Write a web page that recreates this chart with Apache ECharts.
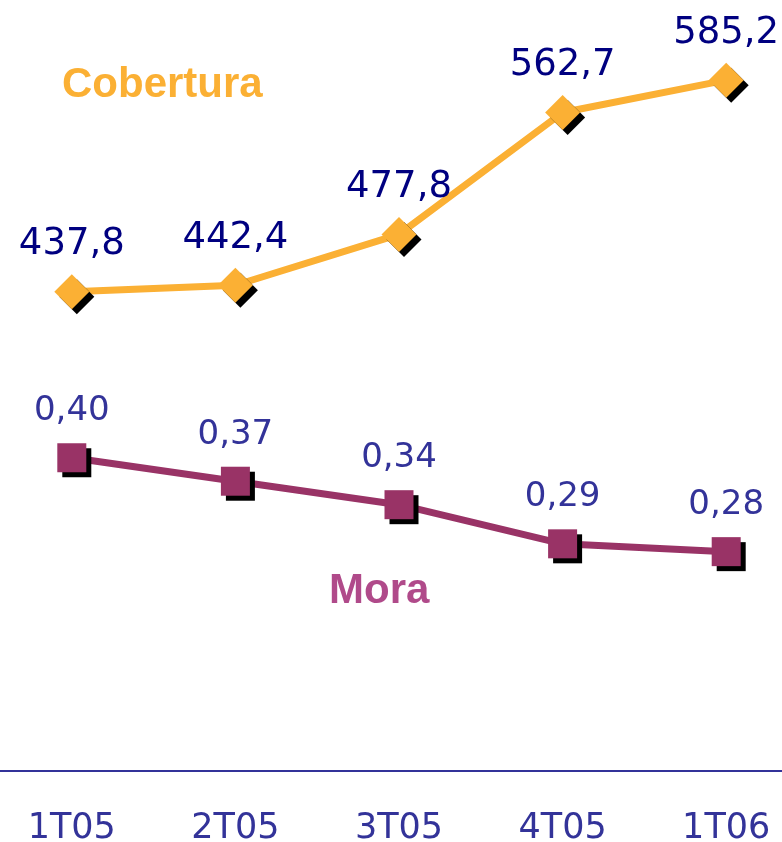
<!DOCTYPE html>
<html>
<head>
<meta charset="utf-8">
<script src="https://cdn.jsdelivr.net/npm/echarts@6/dist/echarts.min.js"></script>
<style>
  html, body { margin: 0; padding: 0; background: #fff; }
  #chart { width: 782px; height: 842px; }
</style>
</head>
<body>
<div id="chart"></div>
<script>
// quarters
const categories = ['1T05', '2T05', '3T05', '4T05', '1T06']
// Cobertura (%)
const coberturaData = [437.8, 442.4, 477.8, 562.7, 585.2]
// Mora (%)
const moraData = [0.40, 0.37, 0.34, 0.29, 0.28]

const fmt = (digits) => (p) => p.value.toFixed(digits).replace('.', ',')

const chart = echarts.init(document.getElementById('chart'))
chart.setOption({
  animation: false,
  backgroundColor: '#fff',
  grid: { left: -10, right: -26, top: 0, bottom: 65, outerBoundsMode: 'none', containLabel: false },
  xAxis: {
    type: 'category',
    data: categories,
    boundaryGap: true,
    axisLine: { lineStyle: { color: '#333399', width: 2 } },
    axisTick: { show: false },
    axisLabel: {
      margin: 34,
      color: '#333399',
      fontFamily: 'DejaVu Sans',
      fontSize: 35
    }
  },
  yAxis: [
    { type: 'value', min: 100, max: 641, show: false, splitLine: { show: false } },
    { type: 'value', min: -0.008, max: 0.985, show: false, splitLine: { show: false } }
  ],
  graphic: [
    {
      type: 'text', left: 62, top: 64,
      style: { text: 'Cobertura', fill: '#fbb034', font: 'bold 42px "Liberation Sans", Arial' }
    },
    {
      type: 'text', left: 329, top: 570,
      style: { text: 'Mora', fill: '#b04a8a', font: 'bold 42px "Liberation Sans", Arial' }
    }
  ],
  series: [
    {
      name: 'Cobertura',
      type: 'line',
      yAxisIndex: 0,
      data: coberturaData,
      symbol: 'diamond',
      symbolSize: 35,
      lineStyle: { color: '#fbb034', width: 7 },
      itemStyle: {
        color: '#fbb034',
        shadowColor: '#000',
        shadowBlur: 0,
        shadowOffsetX: 5,
        shadowOffsetY: 5
      },
      label: {
        show: true,
        position: 'top',
        distance: 11,
        formatter: fmt(1),
        color: '#000080',
        fontFamily: 'DejaVu Sans',
        fontSize: 37
      },
      z: 3
    },
    {
      name: 'Mora',
      type: 'line',
      yAxisIndex: 1,
      data: moraData,
      symbol: 'rect',
      symbolSize: 29,
      lineStyle: { color: '#993366', width: 7 },
      itemStyle: {
        color: '#993366',
        shadowColor: '#000',
        shadowBlur: 0,
        shadowOffsetX: 5,
        shadowOffsetY: 5
      },
      label: {
        show: true,
        position: 'top',
        distance: 15,
        formatter: fmt(2),
        color: '#333399',
        fontFamily: 'DejaVu Sans',
        fontSize: 34
      },
      z: 2
    }
  ]
})
</script>
</body>
</html>
